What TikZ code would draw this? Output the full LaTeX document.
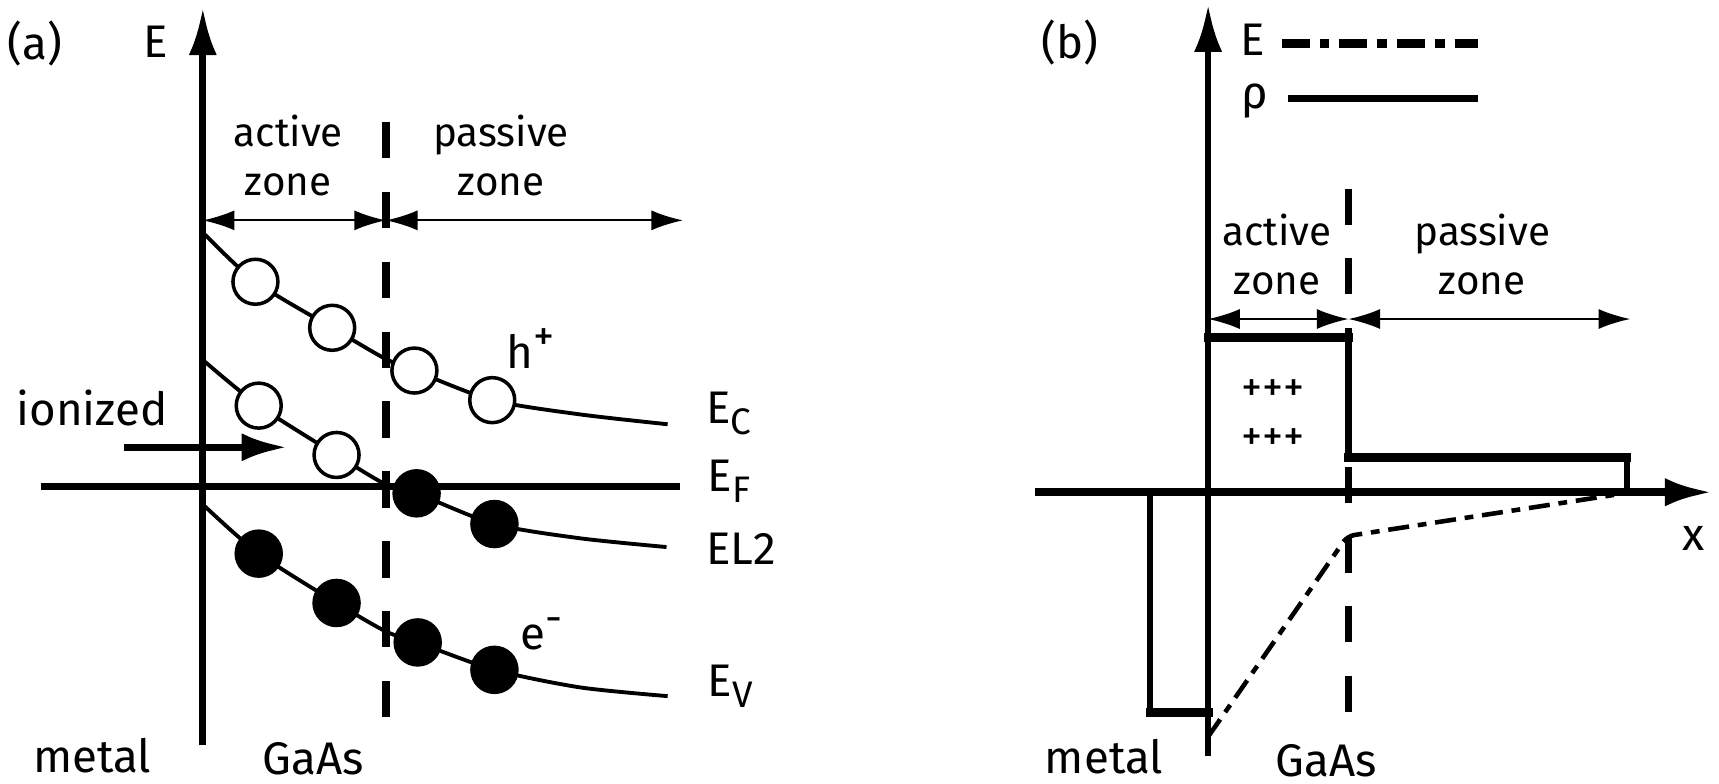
\documentclass[tikz,border=0pt]{standalone}
\usepackage{fontspec}
\setmainfont{Fira Sans}
\usepackage{tikz}
\usetikzlibrary{arrows.meta, positioning, backgrounds}

\newcommand{\bandidx}[1]{\raisebox{-3.2pt}{\fontsize{10.5}{10}\selectfont #1}}
\newcommand{\chargeidx}[1]{\raisebox{5pt}{\fontsize{12}{10}\selectfont #1}}

\begin{document}
\begin{tikzpicture}[x=0.10963mm, y=-0.10963mm, font=\fontsize{13}{15}\selectfont,
    axis/.style={line width=1.9pt},
    axistip/.style={-{Latex[length=13.5pt,width=8pt]}},
    band/.style={line width=1.1pt},
    zonearrow/.style={line width=0.55pt, {Latex[length=9pt,width=5.7pt]}-{Latex[length=9pt,width=5.7pt]}},
    border/.style={line width=2.3pt, dash pattern=on 10.3pt off 9.6pt},
    field/.style={line width=1.3pt, dash pattern=on 6pt off 2.5pt on 2.5pt off 2.5pt},
    rho/.style={line width=1.9pt},
    rhotop/.style={line width=2.5pt},
    hole/.style={circle, draw, line width=1pt, fill=white, inner sep=0pt, minimum size=12.8pt},
    electron/.style={circle, fill=black, inner sep=0pt, minimum size=13.8pt},
    zone/.style={align=center, font=\fontsize{11.5}{13.8}\selectfont}]
    \useasboundingbox (0,0) rectangle (1568,715);

    % ---------- panel (a): band diagram ----------
    \node (tagA) at (32,40) {(a)};
    \coordinate (aBot) at (185,680);
    \coordinate (aTop) at (185,7);
    \coordinate (fLeft) at (37,444);
    \coordinate (fRight) at (620,444);
    \draw[axis, axistip] (aBot) -- (aTop);
    \draw[axis] (fLeft) -- (fRight);
    \node (Ea) at (142,38) {E};

    % zone border
    \coordinate (bTop) at (352,111);
    \coordinate (bBot) at (352,657);
    \draw[border] (bTop) -- (bBot);

    % zone widths
    \coordinate (zA0) at (185,201);
    \coordinate (zA1) at (352,201);
    \coordinate (zA2) at (623,201);
    \draw[zonearrow] (zA0) -- (zA1);
    \draw[zonearrow] (zA1) -- (zA2);
    \node[zone] (actA) at (263,142) {active\\zone};
    \node[zone] (pasA) at (457,142) {passive\\zone};

    % holes and electrons
    \node[hole] (h1) at (233,257) {};
    \node[hole] (h2) at (303,299) {};
    \node[hole] (h3) at (378,338) {};
    \node[hole] (h4) at (449,365) {};
    \node[hole] (h5) at (236,370) {};
    \node[hole] (h6) at (307,415) {};
    \node[electron] (e1) at (380,450) {};
    \node[electron] (e2) at (451,478) {};
    \node[electron] (e3) at (236,505) {};
    \node[electron] (e4) at (307,550) {};
    \node[electron] (e5) at (381,586) {};
    \node[electron] (e6) at (451,611) {};

    % band edges
    \begin{scope}[on background layer]
        \draw[band] plot[smooth, tension=0.45] coordinates {(187,214) (h1.center) (h2.center) (351,327) (h3.center) (h4.center) (529,378) (609,387)};
        \draw[band] plot[smooth, tension=0.45] coordinates {(187,330) (h5.center) (h6.center) (352,442) (e1.center) (e2.center) (529,491) (608,499)};
        \draw[band] plot[smooth, tension=0.45] coordinates {(187,462) (e3.center) (e4.center) (352,576) (e5.center) (e6.center) (529,627) (609,635)};
    \end{scope}

    \node (Ec) at (665,377) {E\bandidx{C}};
    \node (Ef) at (665,439) {E\bandidx{F}};
    \node (El2) at (676,501) {EL2};
    \node (Ev) at (666,626) {E\bandidx{V}};
    \node (hp) at (484,318) {h\chargeidx{+}};
    \node (em) at (494,578) {e\chargeidx{-}};

    % ionization
    \node (ion) at (84,372) {ionized};
    \coordinate (ionL) at (113,408);
    \coordinate (ionR) at (262,408);
    \draw[line width=2.1pt, -{Latex[length=13pt,width=8pt]}] (ionL) -- (ionR);

    \node (metalA) at (84,689) {metal};
    \node (gaasA) at (286,692) {GaAs};

    % ---------- panel (b): charge and field ----------
    \node (tagB) at (976,39) {(b)};
    \coordinate (bAxBot) at (1102,690);
    \coordinate (bAxTop) at (1102,4);
    \coordinate (xLeft) at (944,449);
    \coordinate (xRight) at (1562,449);
    \draw[axis, axistip] (bAxBot) -- (bAxTop);
    \draw[axis, line width=2.3pt, axistip] (xLeft) -- (xRight);
    \node (xlab) at (1545,491) {x};

    % legend
    \node (legE) at (1143,36) {E};
    \node (legR) at (1145,92) {ρ};
    \coordinate (legE0) at (1169,40);
    \coordinate (legE1) at (1348,40);
    \coordinate (legR0) at (1175,90);
    \coordinate (legR1) at (1348,90);
    \draw[line width=2.6pt, dash pattern=on 8pt off 2.8pt on 2.8pt off 2.8pt] (legE0) -- (legE1);
    \draw[line width=1.9pt] (legR0) -- (legR1);

    % zone border
    \coordinate (cTop) at (1230,172);
    \coordinate (cBot) at (1230,650);
    \draw[border, line width=1.9pt, dash pattern=on 10.3pt off 9.5pt] (cTop) -- (cBot);

    % zone widths
    \coordinate (zB0) at (1102,291);
    \coordinate (zB1) at (1230,291);
    \coordinate (zB2) at (1487,291);
    \draw[zonearrow] (zB0) -- (zB1);
    \draw[zonearrow] (zB1) -- (zB2);
    \node[zone] (actB) at (1165,232) {active\\zone};
    \node[zone] (pasB) at (1352,232) {passive\\zone};

    % space charge
    \coordinate (pA) at (1102,308);
    \coordinate (pB) at (1230,308);
    \coordinate (pC) at (1230,417);
    \coordinate (pD) at (1484,417);
    \coordinate (pE) at (1484,449);
    \coordinate (nA) at (1049,449);
    \coordinate (nB) at (1049,650);
    \coordinate (nC) at (1102,650);
    \draw[rho] (pB) -- (pC);
    \draw[rho] (pD) -- (pE);
    \draw[rho] (nA) -- (nB);
    \draw[rhotop, line cap=rect] (pA) -- (pB);
    \draw[rhotop, line cap=rect] (pC) -- (pD);
    \draw[rhotop, line cap=rect] (nB) -- (nC);
    \node[font=\fontsize{12}{14}\selectfont] (plus1) at (1161,356) {+++};
    \node[font=\fontsize{12}{14}\selectfont] (plus2) at (1161,401) {+++};

    % electric field
    \coordinate (f0) at (1102,672);
    \coordinate (f1) at (1229,489);
    \coordinate (f2) at (1475,451);
    \draw[field, rounded corners=2pt] (f0) -- (f1) -- (f2);

    \node (metalB) at (1007,690) {metal};
    \node (gaasB) at (1210,694) {GaAs};
\end{tikzpicture}
\end{document}
